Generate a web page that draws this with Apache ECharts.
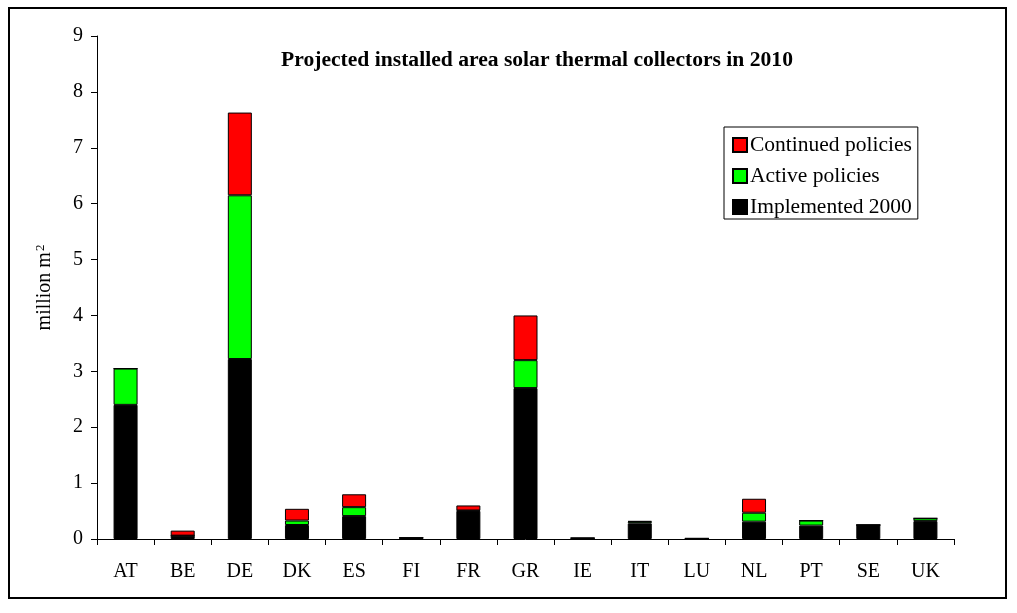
<!DOCTYPE html>
<html>
<head>
<meta charset="utf-8">
<script src="https://cdn.jsdelivr.net/npm/echarts@6/dist/echarts.min.js"></script>
<style>
  html, body { margin: 0; padding: 0; background: #fff; }
  #chart { width: 1017px; height: 613px; }
</style>
</head>
<body>
<div id="chart"></div>
<script>
// Member states
const countries = ['AT', 'BE', 'DE', 'DK', 'ES', 'FI', 'FR', 'GR', 'IE', 'IT', 'LU', 'NL', 'PT', 'SE', 'UK'];

// Installed collector area in 2010, million m2, split by policy scenario
const implemented2000 = [2.40, 0.06, 3.22, 0.25, 0.41, 0.02, 0.50, 2.70, 0.015, 0.28, 0.01, 0.31, 0.24, 0.25, 0.32];
const activePolicies  = [0.65, 0.00, 2.93, 0.08, 0.16, 0.00, 0.01, 0.50, 0.00, 0.03, 0.00, 0.16, 0.09, 0.00, 0.05];
const continuedPolicies = [0.00, 0.09, 1.48, 0.21, 0.23, 0.00, 0.09, 0.80, 0.00, 0.01, 0.00, 0.25, 0.00, 0.00, 0.00];

// Value axis ticks
const yMin = 0, yMax = 9, yStep = 1;

const serif = '"Liberation Serif", "DejaVu Serif", serif';

function bars(name, data, color) {
  return {
    name: name,
    type: 'bar',
    stack: 'area',
    data: data,
    barWidth: 24,
    itemStyle: { color: color, borderColor: '#000', borderWidth: 1 },
    emphasis: { disabled: true }
  };
}

const chart = echarts.init(document.getElementById('chart'), null, { renderer: 'canvas' });
chart.setOption({
  animation: false,
  backgroundColor: '#fff',
  textStyle: { fontFamily: serif, color: '#000' },
  title: {
    text: 'Projected installed area solar thermal collectors in 2010',
    left: 532,
    top: 44,
    textAlign: 'center',
    textStyle: { fontFamily: serif, fontWeight: 'bold', fontSize: 21.6, color: '#000' }
  },
  legend: {
    orient: 'vertical',
    left: 724,
    top: 127,
    width: 194,
    padding: [7, 6, 1, 8],
    itemGap: 9,
    icon: 'rect',
    itemWidth: 14,
    itemHeight: 14,
    borderColor: '#000',
    borderWidth: 1,
    backgroundColor: '#fff',
    selectedMode: false,
    data: ['Continued policies', 'Active policies', 'Implemented 2000'],
    textStyle: { fontFamily: serif, fontSize: 21.5, color: '#000', padding: [0, 0, 0, -2] }
  },
  grid: { left: 97, right: 63, top: 36, bottom: 74, containLabel: false },
  xAxis: {
    type: 'category',
    data: countries,
    axisLine: { lineStyle: { color: '#000', width: 1 } },
    axisTick: { show: true, length: 6, lineStyle: { color: '#000' } },
    axisLabel: { fontFamily: serif, fontSize: 20, color: '#000', margin: 23 },
    splitLine: { show: false }
  },
  yAxis: {
    type: 'value',
    min: yMin,
    max: yMax,
    interval: yStep,
    name: '{a|million m}{s|2}',
    nameLocation: 'middle',
    nameRotate: 90,
    nameGap: 42,
    nameTextStyle: {
      fontFamily: serif, fontSize: 20, color: '#000',
      rich: {
        a: { fontFamily: serif, fontSize: 20, color: '#000', verticalAlign: 'bottom' },
        s: { fontFamily: serif, fontSize: 13, color: '#000', verticalAlign: 'top', padding: [0, 0, 8, 1] }
      }
    },
    axisLine: { show: true, lineStyle: { color: '#000', width: 1 } },
    axisTick: { show: true, length: 6, lineStyle: { color: '#000' } },
    axisLabel: { fontFamily: serif, fontSize: 20, color: '#000', margin: 14 },
    splitLine: { show: false }
  },
  graphic: [{
    type: 'rect',
    shape: { x: 9, y: 8, width: 997, height: 590 },
    style: { fill: null, stroke: '#000', lineWidth: 2 },
    silent: true,
    z: 100
  }],
  series: [
    bars('Implemented 2000', implemented2000, '#000000'),
    bars('Active policies', activePolicies, '#00ff00'),
    bars('Continued policies', continuedPolicies, '#ff0000')
  ]
});
</script>
</body>
</html>
